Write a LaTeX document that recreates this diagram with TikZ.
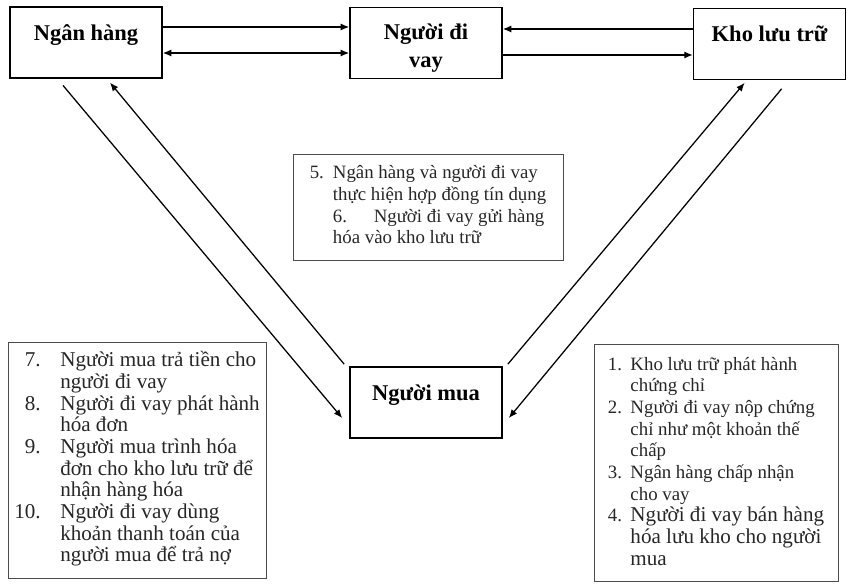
\documentclass[tikz,border=0pt]{standalone}
\usepackage{fontspec}
\setmainfont{Liberation Serif}
\usetikzlibrary{arrows.meta,positioning,calc}

\newcommand\bigstep{\fontsize{15}{15.4}\selectfont}

\begin{document}
\begin{tikzpicture}[
  party/.style={draw, line width=1.2pt, minimum width=3.8cm, minimum height=1.78cm,
    font=\fontsize{16}{20}\selectfont\bfseries, inner sep=2pt},
  oneline/.style={party, text height=0.45cm, text depth=0.55cm},
  stepbox/.style={draw=black!70, line width=0.7pt, inner sep=0pt, text=black!85,
    font=\fontsize{13.4}{15.4}\selectfont},
  flow/.style={line width=0.9pt},
  >={Latex[length=6pt,width=5pt]}
]
\useasboundingbox (0,0) rectangle (21.275,14.575);

% the four parties
\node[oneline] (bank) at (2.15,13.51) {Ngân hàng};
\node[party, align=center] (borrower) at (10.65,13.5) {\rule{0pt}{18pt}Người đi\\vay};
\node[oneline] (store) at (19.24,13.475) {Kho lưu trữ};
\node[oneline] (buyer) at (10.65,4.51) {Người mua};

% numbered steps
\node[stepbox, minimum width=6.75cm, minimum height=2.65cm] (steps56) at (10.7,9.4) {%
  \begin{tabular}{@{}r@{\hspace{6.4pt}}l@{}}
  5. & Ngân hàng và người đi vay\\
     & thực hiện hợp đồng tín dụng\\
     & 6.\hspace{19pt}Người đi vay gửi hàng\\
     & hóa vào kho lưu trữ
  \end{tabular}};
\node[stepbox, font=\bigstep, minimum width=6.45cm, minimum height=5.9cm] (steps710) at (3.425,3.075) {%
  \begin{tabular}{@{}r@{\hspace{14pt}}l@{}}
  7.  & Người mua trả tiền cho\\
      & người đi vay\\
  8.  & Người đi vay phát hành\\
      & hóa đơn\\
  9.  & Người mua trình hóa\\
      & đơn cho kho lưu trữ để\\
      & nhận hàng hóa\\
  10. & Người đi vay dùng\\
      & khoản thanh toán của\\
      & người mua để trả nợ
  \end{tabular}};
\node[stepbox, minimum width=6.1cm, minimum height=5.925cm] (steps14) at (17.9,2.99) {%
  \begin{tabular}{@{}r@{\hspace{6pt}}l@{}}
  1. & Kho lưu trữ phát hành\\
     & chứng chỉ\\
  2. & Người đi vay nộp chứng\\
     & chỉ như một khoản thế\\
     & chấp\\
  3. & Ngân hàng chấp nhận\\
     & cho vay\\
  4. & \bigstep Người đi vay bán hàng\\
     & \bigstep hóa lưu kho cho người\\
     & \bigstep mua
  \end{tabular}};

% top row
\draw[flow,->] ([yshift=0.39cm]bank.east) -- ([yshift=0.39cm]bank.east -| borrower.west);
\draw[flow,<->] ([yshift=-0.26cm]bank.east) -- ([yshift=-0.26cm]bank.east -| borrower.west);
\draw[flow,<-] ([yshift=0.35cm]borrower.east) -- ([yshift=0.35cm]borrower.east -| store.west);
\draw[flow,->] ([yshift=-0.3cm]borrower.east) -- ([yshift=-0.3cm]borrower.east -| store.west);

% diagonals to and from the buyer
\draw[flow,->] ([xshift=-0.575cm,yshift=-0.16cm]bank.south) -- ([xshift=-0.175cm,yshift=-0.385cm]buyer.west);
\draw[flow,->] ([xshift=-0.125cm,yshift=0.05cm]buyer.north west) -- ([xshift=0.6cm,yshift=-0.09cm]bank.south);
\draw[flow,->] ([xshift=0.125cm,yshift=0.05cm]buyer.north east) -- ([xshift=-0.625cm,yshift=-0.06cm]store.south);
\draw[flow,->] ([xshift=0.3cm,yshift=-0.21cm]store.south) -- ([xshift=0.15cm,yshift=-0.385cm]buyer.east);
\end{tikzpicture}
\end{document}
